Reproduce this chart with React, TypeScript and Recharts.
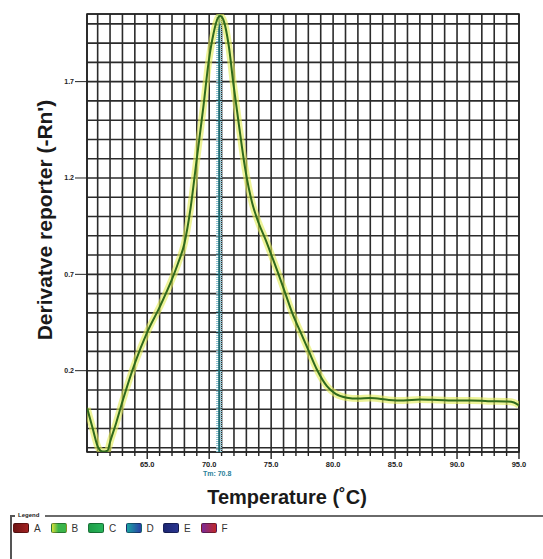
import React from 'react';
import {
  LineChart,
  Line,
  XAxis,
  YAxis,
  CartesianGrid,
  ReferenceLine,
  ReferenceArea,
  Label,
} from 'recharts';

// melt curve
const temperatures = [
  60.15, 60.6, 61.05, 61.4, 61.8, 62.0, 62.5, 63.0, 64.0, 65.0, 66.0, 67.0, 67.5,
  68.0, 68.5, 69.0, 69.55, 69.95, 70.35, 70.7, 70.9, 71.2, 71.57, 71.97, 72.4,
  72.9, 73.47, 74.0, 74.55, 75.08, 75.6, 76.15, 76.7, 77.37, 78.05, 78.7, 79.5,
  80.2, 81.1, 82.0, 83.0, 84.5, 85.7, 87.0, 88.4, 90.0, 91.1, 92.5, 94.1, 94.6, 95.0,
];
const derivative = [
  0.006, -0.1, -0.2, -0.22, -0.215, -0.17, -0.07, 0.04, 0.238, 0.4, 0.53, 0.675,
  0.76, 0.86, 1.045, 1.3, 1.58, 1.8, 1.95, 2.03, 2.04, 2.01, 1.89, 1.68, 1.475,
  1.25, 1.07, 0.965, 0.88, 0.79, 0.7, 0.6, 0.5, 0.4, 0.3, 0.205, 0.12, 0.08, 0.06,
  0.055, 0.058, 0.048, 0.045, 0.05, 0.048, 0.045, 0.045, 0.042, 0.04, 0.035, 0.02,
];

const xGridTicks = [
  61, 62, 63, 64, 65, 66, 67, 68, 69, 70, 71, 72, 73, 74, 75, 76, 77, 78, 79, 80,
  81, 82, 83, 84, 85, 86, 87, 88, 89, 90, 91, 92, 93, 94, 95,
];
const xLabelTicks = [65, 70, 75, 80, 85, 90, 95];
const yGridTicks = [
  -0.2, -0.1, 0, 0.1, 0.2, 0.3, 0.4, 0.5, 0.6, 0.7, 0.8, 0.9, 1.0, 1.1, 1.2, 1.3,
  1.4, 1.5, 1.6, 1.7, 1.8, 1.9, 2.0,
];
const yLabelTicks = [0.2, 0.7, 1.2, 1.7];
const meltTemp = 70.8;

const wells = ['A', 'B', 'C', 'D', 'E', 'F'];
const wellSwatches = [
  'linear-gradient(90deg,#6e1414,#a32222)',
  'linear-gradient(90deg,#d9e03a,#3bb54a 45%,#3bb54a)',
  'linear-gradient(90deg,#1e9e48,#28b45a)',
  'linear-gradient(90deg,#1aa3a3,#2a3fa5)',
  'linear-gradient(90deg,#1c2672,#2a3590)',
  'linear-gradient(90deg,#7a2a98,#c0282a)',
];

const data = temperatures.map((t, i) => ({ temp: t, value: derivative[i] }));

const X_MIN = 60.14;
const X_MAX = 95;
const Y_MIN = -0.222;
const Y_MAX = 2.051;

function XTick({ x, y, payload }: any) {
  const v = payload.value;
  const labeled = xLabelTicks.includes(v);
  return (
    <g>
      <line x1={x} x2={x} y1={y} y2={y + (labeled ? 7 : 4)} stroke="#222" strokeWidth={1.4} />
      {labeled && (
        <text x={x} y={y + 15} textAnchor="middle" fontSize={7.5} fontWeight="bold" fill="#222">
          {v.toFixed(1)}
        </text>
      )}
    </g>
  );
}

function YTick({ x, y, payload }: any) {
  const v = payload.value;
  const labeled = yLabelTicks.some((l) => Math.abs(l - v) < 1e-6);
  if (!labeled) return <g />;
  return (
    <g>
      <line x1={x - 12} x2={x} y1={y} y2={y} stroke="#222" strokeWidth={1} />
      <text x={x - 13} y={y + 2.5} textAnchor="end" fontSize={7} fontWeight="bold" fill="#222">
        {v.toFixed(1)}
      </text>
    </g>
  );
}

export default function App() {
  return (
    <div
      style={{
        position: 'absolute',
        left: 0,
        top: 0,
        width: 543,
        height: 559,
        background: '#fff',
        fontFamily: '"Liberation Sans", Arial, sans-serif',
        overflow: 'hidden',
      }}
    >
      <LineChart
        width={543}
        height={510}
        data={data}
        margin={{ top: 14, right: 24, bottom: 28, left: 47 }}
      >
        <CartesianGrid stroke="#2b2b2b" strokeWidth={1.6} />
        <XAxis
          dataKey="temp"
          type="number"
          domain={[X_MIN, X_MAX]}
          allowDataOverflow
          ticks={xGridTicks}
          interval={0}
          tick={<XTick />}
          tickLine={false}
          tickSize={0}
          tickMargin={0}
          axisLine={false}
          height={30}
        >
          <Label
            content={({ viewBox }: any) => (
              <text
                x={viewBox.x + viewBox.width / 2 - 16}
                y={504}
                textAnchor="middle"
                fontSize={20}
                fontWeight="bold"
                fill="#1a1a1a"
              >
                Temperature (˚C)
              </text>
            )}
          />
        </XAxis>
        <YAxis
          type="number"
          domain={[Y_MIN, Y_MAX]}
          allowDataOverflow
          ticks={yGridTicks}
          interval={0}
          tick={<YTick />}
          tickLine={false}
          tickSize={0}
          tickMargin={0}
          axisLine={false}
          width={40}
        >
          <Label
            content={() => (
              <text
                x={0}
                y={0}
                transform="translate(52,220) rotate(-90)"
                textAnchor="middle"
                fontSize={21}
                fontWeight="bold"
                fill="#1a1a1a"
              >
                Derivatve reporter (-Rn')
              </text>
            )}
          />
        </YAxis>
        <ReferenceArea
          x1={X_MIN}
          x2={X_MAX}
          y1={Y_MIN}
          y2={Y_MAX}
          fill="none"
          stroke="#222"
          strokeWidth={1.6}
        />
        <ReferenceLine x={meltTemp} stroke="#86c3d2" strokeWidth={6} strokeDasharray="1 1" />
        <ReferenceLine
          x={meltTemp}
          stroke="#1f6a70"
          strokeWidth={1.8}
          label={({ viewBox }: any) => (
            <text
              x={viewBox.x - 2}
              y={viewBox.y + viewBox.height + 24}
              textAnchor="middle"
              fontSize={7}
              fontWeight="bold"
              fill="#2a7f9a"
            >
              {`Tm: ${meltTemp.toFixed(1)}`}
            </text>
          )}
        />
        <Line
          type="monotone"
          dataKey="value"
          stroke="#e2ec55"
          strokeOpacity={0.6}
          strokeWidth={7}
          dot={false}
          activeDot={false}
          isAnimationActive={false}
        />
        <Line
          type="monotone"
          dataKey="value"
          stroke="#2f6a1c"
          strokeWidth={2}
          dot={false}
          activeDot={false}
          isAnimationActive={false}
        />
      </LineChart>

      {/* legend box */}
      <div style={{ position: 'absolute', left: 10, top: 515, width: 1.5, height: 44, background: '#555' }} />
      <div style={{ position: 'absolute', left: 10, top: 515, width: 5, height: 1.5, background: '#555' }} />
      <div style={{ position: 'absolute', left: 45, top: 515, width: 498, height: 1.5, background: '#6a6a6a' }} />
      <div
        style={{
          position: 'absolute',
          left: 18,
          top: 511,
          fontSize: 6,
          fontWeight: 'bold',
          color: '#222',
          lineHeight: '8px',
        }}
      >
        Legend
      </div>
      {wells.map((w, i) => (
        <div
          key={w}
          style={{
            position: 'absolute',
            left: 13 + i * 37.5,
            top: 523,
            display: 'flex',
            alignItems: 'center',
            height: 10,
          }}
        >
          <div
            style={{
              width: 14,
              height: 8,
              borderRadius: 2,
              border: '1px solid rgba(0,0,0,0.35)',
              background: wellSwatches[i],
            }}
          />
          <span style={{ marginLeft: 5, fontSize: 10, color: '#333' }}>{w}</span>
        </div>
      ))}
    </div>
  );
}
